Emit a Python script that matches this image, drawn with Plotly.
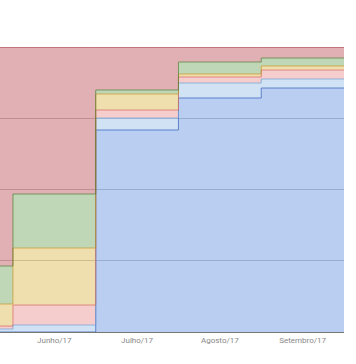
import plotly.graph_objects as go

# Categories (months) and series values (relative shares, stacked to 100%)
months = ["Maio/17", "Junho/17", "Julho/17", "Agosto/17", "Setembro/17"]

serie_azul = [0, 0, 202, 234, 244]
serie_azul_claro = [3, 7, 12, 15, 9]
serie_rosa = [3, 20, 8, 6, 9]
serie_amarela = [22, 57, 16, 3, 4]
serie_verde = [38, 54, 4, 12, 8]
serie_vermelha = [219, 147, 43, 15, 11]

series = [
    ("Série 1", serie_azul, "rgba(60,120,216,0.36)", "rgba(60,100,190,0.75)"),
    ("Série 2", serie_azul_claro, "rgba(111,168,220,0.33)", "rgba(111,160,215,0.7)"),
    ("Série 3", serie_rosa, "rgba(224,102,102,0.33)", "rgba(215,100,100,0.7)"),
    ("Série 4", serie_amarela, "rgba(214,165,30,0.36)", "rgba(200,150,40,0.7)"),
    ("Série 5", serie_verde, "rgba(80,145,55,0.36)", "rgba(90,130,60,0.75)"),
    ("Série 6", serie_vermelha, "rgba(166,28,40,0.35)", "rgba(150,30,40,0.8)"),
]

# step edges: each category spans a full band [i-0.5, i+0.5]
n = len(months)
x_edges = [i - 0.5 for i in range(n)] + [n - 0.5]

fig = go.Figure()
for name, vals, fillc, linec in series:
    y = list(vals) + [vals[-1]]
    fig.add_trace(go.Scatter(
        x=x_edges, y=y, name=name, mode="lines",
        stackgroup="one", groupnorm="percent",
        line=dict(shape="hv", color=linec, width=1),
        fillcolor=fillc,
    ))

fig.update_layout(
    width=356, height=364,
    margin=dict(l=0, r=12, t=47, b=32),
    paper_bgcolor="white", plot_bgcolor="white",
    showlegend=False,
    font=dict(family="Roboto", size=8, color="#888888"),
    xaxis=dict(
        range=[0.5 - 13 / 83, n - 0.5],
        tickmode="array", tickvals=list(range(n)), ticktext=months,
        showgrid=False, zeroline=False, showline=True,
        linecolor="#777777", linewidth=1, ticks="",
        tickfont=dict(size=8, color="#888888"),
    ),
    yaxis=dict(
        range=[0, 100], dtick=25, showticklabels=False,
        showgrid=True, gridcolor="#cccccc", gridwidth=1,
        zeroline=False, showline=False, ticks="",
    ),
)

fig.write_html(
    "out.html",
    config={"displayModeBar": False},
    post_script="document.body.style.margin='0';document.body.style.padding='0';",
)
